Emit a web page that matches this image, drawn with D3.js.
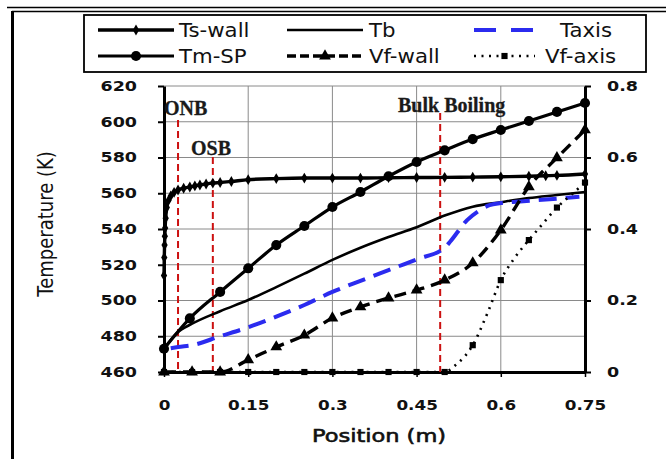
<!DOCTYPE html>
<meta charset="utf-8">
<style>
  body { margin: 0; background: #fff; }
  svg { display: block; }
  text { font-family: "DejaVu Sans", sans-serif; }
</style>
<body>
<script src="https://cdn.jsdelivr.net/npm/d3@7/dist/d3.min.js"></script>
<script>
// ---- data ----
const tempTicks = [460, 480, 500, 520, 540, 560, 580, 600, 620];
const fracTicks = [0, 0.2, 0.4, 0.6, 0.8];
const posTicks = [0, 0.15, 0.3, 0.45, 0.6, 0.75];

const tsWallX = [0, 0.0005, 0.001, 0.0015, 0.002, 0.003, 0.005, 0.008, 0.012, 0.018, 0.025, 0.035, 0.046, 0.055, 0.064, 0.075, 0.087, 0.1, 0.12, 0.15, 0.2, 0.25, 0.3, 0.35, 0.4, 0.45, 0.5, 0.55, 0.6, 0.65, 0.68, 0.7, 0.75];
const tsWallT = [514, 524, 531, 536, 540.5, 546, 552, 556, 558.5, 560.5, 561.8, 562.8, 563.5, 564.1, 564.6, 565.2, 565.7, 566, 566.6, 567.6, 568.2, 568.5, 568.5, 568.5, 568.7, 568.8, 568.9, 569, 569.2, 569.5, 569.8, 570, 570.8];

const tmSpX = [0, 0.046, 0.1, 0.15, 0.2, 0.25, 0.3, 0.35, 0.4, 0.45, 0.5, 0.55, 0.6, 0.65, 0.7, 0.75];
const tmSpT = [473, 490, 504.8, 518, 531, 541.7, 552.3, 560.7, 569.5, 577.5, 584, 590.3, 595.4, 600.4, 605.5, 610.5];

const tbX = [0, 0.023, 0.05, 0.1, 0.15, 0.2, 0.25, 0.3, 0.35, 0.4, 0.45, 0.5, 0.55, 0.6, 0.65, 0.7, 0.75];
const tbT = [473, 481.8, 487, 494, 500.3, 507.5, 515, 522.7, 529.5, 535.5, 541, 547.5, 552.5, 555, 557.3, 559, 560.7];

const taxisX = [0.012, 0.025, 0.05, 0.1, 0.15, 0.2, 0.25, 0.3, 0.35, 0.4, 0.45, 0.5, 0.51, 0.54, 0.56, 0.58, 0.6, 0.64, 0.7, 0.74];
const taxisT = [473.3, 474, 475, 480, 485, 491, 497.5, 504.8, 511, 517, 523, 529.5, 533, 545, 550, 553.4, 554.5, 555.5, 557, 558];

const vfWallX = [0, 0.05, 0.1, 0.15, 0.2, 0.25, 0.3, 0.35, 0.4, 0.45, 0.5, 0.55, 0.6, 0.65, 0.7, 0.75];
const vfWallV = [0, 0, 0, 0.034, 0.07, 0.103, 0.151, 0.182, 0.207, 0.229, 0.257, 0.305, 0.397, 0.518, 0.599, 0.677];

const vfAxisX = [0, 0.05, 0.1, 0.15, 0.2, 0.25, 0.3, 0.35, 0.4, 0.45, 0.5, 0.52, 0.55, 0.575, 0.6, 0.625, 0.65, 0.675, 0.7, 0.725, 0.75];
const vfAxisV = [0, 0, 0, 0, 0, 0, 0, 0, 0, 0, 0, 0.02, 0.075, 0.16, 0.257, 0.32, 0.369, 0.415, 0.46, 0.495, 0.53];

const markers = [
  { name: 'ONB', pos: 0.025 },
  { name: 'OSB', pos: 0.087 },
  { name: 'Bulk Boiling', pos: 0.492 }
];

// ---- setup ----
const W = 666, H = 459;
const svg = d3.select('body').append('svg').attr('width', W).attr('height', H);

const x = d3.scaleLinear().domain([0, 0.75]).range([164, 585]);
const yL = d3.scaleLinear().domain([460, 620]).range([372, 86]);
const yR = d3.scaleLinear().domain([0, 0.8]).range([372, 86]);

// page frame bits
svg.append('line').attr('x1', 7).attr('x2', W).attr('y1', 7.5).attr('y2', 7.5)
  .attr('stroke', '#000').attr('stroke-width', 1.4);
svg.append('line').attr('x1', 12).attr('x2', W).attr('y1', 11.5).attr('y2', 11.5)
  .attr('stroke', '#000').attr('stroke-width', 1.6);
svg.append('line').attr('x1', 12.5).attr('x2', 12.5).attr('y1', 11).attr('y2', H)
  .attr('stroke', '#000').attr('stroke-width', 3);

// grid
svg.append('g').selectAll('line').data(tempTicks.slice(1)).join('line')
  .attr('x1', x(0)).attr('x2', x(0.75))
  .attr('y1', d => yL(d)).attr('y2', d => yL(d))
  .attr('stroke', '#8a8a8a').attr('stroke-width', 1);
svg.append('g').selectAll('line').data(posTicks.slice(1, -1)).join('line')
  .attr('x1', d => x(d)).attr('x2', d => x(d))
  .attr('y1', yL(460)).attr('y2', yL(620))
  .attr('stroke', '#8a8a8a').attr('stroke-width', 1);

// axes
const gl = svg.append('g').attr('transform', `translate(${x(0)},0)`)
  .call(d3.axisLeft(yL).tickValues(tempTicks).tickSize(6).tickSizeOuter(0).tickFormat(d3.format('d')));
const gr = svg.append('g').attr('transform', `translate(${x(0.75)},0)`)
  .call(d3.axisRight(yR).tickValues(fracTicks).tickSize(6).tickSizeOuter(0).tickFormat(d => d === 0 ? '0' : d3.format('.1f')(d)));
const gb = svg.append('g').attr('transform', `translate(0,${yL(460)})`)
  .call(d3.axisBottom(x).tickValues(posTicks).tickSize(5).tickSizeOuter(0).tickFormat(d => d === 0 ? '0' : String(d)));

[gl, gr, gb].forEach(g => {
  g.select('.domain').attr('stroke', '#000').attr('stroke-width', 3);
  g.selectAll('.tick line').attr('stroke', '#000').attr('stroke-width', 2);
  g.selectAll('.tick text').attr('fill', '#111')
    .style('font-family', '"DejaVu Sans", sans-serif')
    .style('font-size', '14px').style('font-weight', 'bold');
});
gl.selectAll('.tick text').attr('x', -21.6).attr('transform', 'scale(1.25,1)');
gr.selectAll('.tick text').attr('x', 17.6).attr('transform', 'scale(1.25,1)');
gb.selectAll('.tick text').attr('y', 38).attr('dy', 0).attr('transform', 'scale(1.2,1)');
gb.selectAll('.tick line').attr('stroke-width', 1.5);

// axis titles
svg.append('text')
  .attr('transform', 'translate(53,224) rotate(-90) scale(1,1.2)')
  .attr('text-anchor', 'middle').style('font-size', '18px').attr('fill', '#111')
  .text('Temperature (K)');
svg.append('text')
  .attr('transform', 'translate(379,442) scale(1.25,1)')
  .attr('text-anchor', 'middle').style('font-size', '18px')
  .attr('fill', '#111').attr('stroke', '#111').attr('stroke-width', 0.6)
  .text('Position (m)');

// boiling markers
const labelY = { 'ONB': 115, 'OSB': 155, 'Bulk Boiling': 112 };
const labelX = { 'ONB': 164, 'OSB': 191, 'Bulk Boiling': 398 };
const lineTop = { 'ONB': 120, 'OSB': 157, 'Bulk Boiling': 113 };
svg.append('g').selectAll('line').data(markers).join('line')
  .attr('x1', d => x(d.pos)).attr('x2', d => x(d.pos))
  .attr('y1', d => lineTop[d.name]).attr('y2', yL(460))
  .attr('stroke', '#cc1111').attr('stroke-width', 2).attr('stroke-dasharray', '7,4');
svg.append('g').selectAll('text').data(markers).join('text')
  .attr('x', d => labelX[d.name]).attr('y', d => labelY[d.name])
  .style('font-family', '"Liberation Serif", "Times New Roman", serif')
  .style('font-size', '20px').style('font-weight', 'bold').attr('fill', '#1a1a1a')
  .attr('stroke', '#1a1a1a').attr('stroke-width', 0.3)
  .text(d => d.name);

// ---- series ----
const zip = (xs, vs) => xs.map((v, i) => [v, vs[i]]);
const lineL = d3.line().x(d => x(d[0])).y(d => yL(d[1])).curve(d3.curveMonotoneX);
const lineR = d3.line().x(d => x(d[0])).y(d => yR(d[1])).curve(d3.curveMonotoneX);

const series = [
  { name: 'Ts-wall', data: zip(tsWallX, tsWallT), line: lineL, y: yL, color: '#000', width: 3.4, dash: null, sym: d3.symbolDiamond, size: 34 },
  { name: 'Tb', data: zip(tbX, tbT), line: lineL, y: yL, color: '#000', width: 2.6, dash: null, sym: null },
  { name: 'Taxis', data: zip(taxisX, taxisT), line: lineL, y: yL, color: '#2b2bef', width: 4, dash: '18,9', sym: null },
  { name: 'Tm-SP', data: zip(tmSpX, tmSpT), line: lineL, y: yL, color: '#000', width: 3.2, dash: null, sym: d3.symbolCircle, size: 80 },
  { name: 'Vf-wall', data: zip(vfWallX, vfWallV), line: lineR, y: yR, color: '#000', width: 3.4, dash: '12,7', sym: d3.symbolTriangle, size: 60 },
  { name: 'Vf-axis', data: zip(vfAxisX, vfAxisV), line: lineR, y: yR, color: '#000', width: 2.6, dash: '2,5.5', sym: d3.symbolSquare, size: 38,
    markAt: d => Math.abs(d[0] * 20 - Math.round(d[0] * 20)) < 1e-6 }
];

series.forEach(s => {
  svg.append('path').datum(s.data)
    .attr('fill', 'none').attr('stroke', s.color).attr('stroke-width', s.width)
    .attr('stroke-dasharray', s.dash)
    .attr('d', s.line);
  if (s.sym) {
    svg.append('g').selectAll('path').data(s.markAt ? s.data.filter(s.markAt) : s.data).join('path')
      .attr('transform', d => `translate(${x(d[0])},${s.y(d[1])})`)
      .attr('d', d3.symbol(s.sym, s.size)).attr('fill', s.color);
  }
});

// ---- legend ----
const legend = svg.append('g');
legend.append('rect').attr('x', 84).attr('y', 15).attr('width', 562).attr('height', 57)
  .attr('fill', '#fff').attr('stroke', '#000').attr('stroke-width', 1.8);

const legendItems = [
  { name: 'Ts-wall', lx: 98, tx: 179, ty: 30, len: 76, dash: null },
  { name: 'Tb', lx: 287, tx: 369, ty: 30, len: 76, dash: null },
  { name: 'Taxis', lx: 474, tx: 560, ty: 30, len: 61, dash: '22,15' },
  { name: 'Tm-SP', lx: 98, tx: 179, ty: 56, len: 76, dash: null },
  { name: 'Vf-wall', lx: 287, tx: 369, ty: 56, len: 76, dash: '9,4' },
  { name: 'Vf-axis', lx: 474, tx: 545, ty: 56, len: 61, dash: '2,5.5' }
];
legendItems.forEach(it => {
  const s = series.find(d => d.name === it.name);
  legend.append('line').attr('x1', it.lx).attr('x2', it.lx + it.len)
    .attr('y1', it.ty).attr('y2', it.ty)
    .attr('stroke', s.color).attr('stroke-width', s.width)
    .attr('stroke-dasharray', it.dash);
  if (s.sym) {
    legend.append('path').attr('transform', `translate(${it.lx + it.len / 2},${it.ty})`)
      .attr('d', d3.symbol(s.sym, s.size)).attr('fill', s.color);
  }
  legend.append('text').attr('transform', `translate(${it.tx},${it.ty}) scale(1.12,1)`)
    .attr('dy', '0.36em').style('font-size', '19px').attr('fill', '#111')
    .text(it.name);
});
</script>
